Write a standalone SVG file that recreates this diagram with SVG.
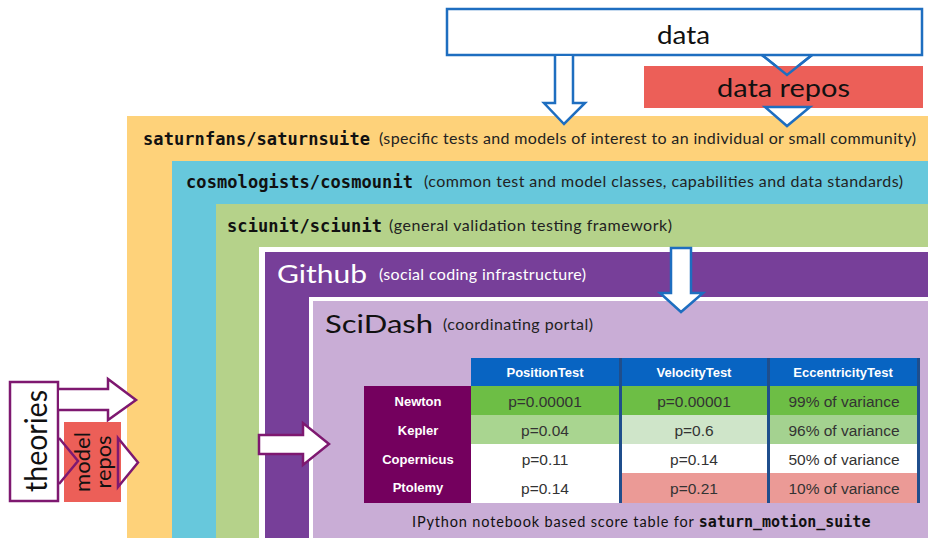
<svg xmlns="http://www.w3.org/2000/svg" width="928" height="538" viewBox="0 0 928 538">
<style>
.mono{font-family:"DejaVu Sans Mono","Liberation Mono",monospace;font-weight:bold;fill:#111}
.cal{font-family:Lato,"Open Sans",sans-serif;fill:#222}
.geo{font-family:Lato,"Noto Sans",sans-serif;fill:#111}
.tb{font-family:"Liberation Sans",Arial,sans-serif}
.hd{font-weight:bold;font-size:13px;fill:#fff;text-anchor:middle}
.lb{font-weight:bold;font-size:13px;fill:#fff;text-anchor:middle}
.cl{font-size:15.5px;fill:#333;text-anchor:middle}
.barr{fill:#fff;stroke:#1E6EC0;stroke-width:2.5;stroke-linejoin:miter}
.parr{fill:#fff;stroke:#7E1870;stroke-width:2.5;stroke-linejoin:miter}
.sep{fill:#1F4E8C}
</style>

<g id="saturnsuite">
<rect x="127" y="116" width="801" height="422" fill="#FED27A"/>
<text class="mono" x="143" y="145" font-size="17" textLength="227">saturnfans/saturnsuite</text>
<text class="cal" x="379" y="144" font-size="16" textLength="537">(specific tests and models of interest to an individual or small community)</text>
</g>

<g id="cosmounit">
<rect x="172" y="161" width="756" height="377" fill="#67C8DC"/>
<text class="mono" x="186" y="188" font-size="17" textLength="227">cosmologists/cosmounit</text>
<text class="cal" x="424" y="187" font-size="16" textLength="479">(common test and model classes, capabilities and data standards)</text>
</g>

<g id="sciunit">
<rect x="216" y="204" width="712" height="334" fill="#B5D28A"/>
<text class="mono" x="227" y="232" font-size="17" textLength="155">sciunit/sciunit</text>
<text class="cal" x="389" y="231" font-size="16" textLength="283">(general validation testing framework)</text>
</g>

<g id="github">
<rect x="259" y="247" width="669" height="291" fill="#fff"/>
<rect x="265" y="252" width="663" height="286" fill="#773F99"/>
<text class="geo" x="277" y="283" font-size="25" textLength="90" lengthAdjust="spacingAndGlyphs" style="fill:#fff">Github</text>
<text class="cal" x="379" y="280" font-size="16" textLength="207" style="fill:#fff">(social coding infrastructure)</text>
</g>

<g id="scidash">
<rect x="309" y="297" width="619" height="241" fill="#fff"/>
<rect x="313" y="301" width="615" height="237" fill="#C9ADD6"/>
<text class="geo" x="325" y="333" font-size="25" textLength="108" lengthAdjust="spacingAndGlyphs">SciDash</text>
<text class="cal" x="443" y="330" font-size="16" textLength="150">(coordinating portal)</text>
</g>

<g id="score-table" class="tb">
<rect x="471" y="358" width="448" height="28" fill="#0864C2"/>
<rect x="364" y="386" width="107" height="117" fill="#74005E"/>
<rect x="471" y="386" width="448" height="29" fill="#6DBE45"/>
<rect x="471" y="415" width="150" height="29" fill="#A9D590"/>
<rect x="621" y="415" width="148" height="29" fill="#CFE5C9"/>
<rect x="769" y="415" width="150" height="29" fill="#A4D290"/>
<rect x="471" y="444" width="448" height="59" fill="#fff"/>
<rect x="621" y="473" width="298" height="30" fill="#EB9A96"/>
<rect class="sep" x="619" y="358" width="3" height="145"/>
<rect class="sep" x="767" y="358" width="3" height="145"/>
<rect class="sep" x="917" y="358" width="3" height="145"/>
<text class="hd" x="545" y="377">PositionTest</text>
<text class="hd" x="694" y="377">VelocityTest</text>
<text class="hd" x="843" y="377">EccentricityTest</text>
<text class="lb" x="418" y="406">Newton</text>
<text class="lb" x="418" y="435">Kepler</text>
<text class="lb" x="418" y="464">Copernicus</text>
<text class="lb" x="418" y="492">Ptolemy</text>
<text class="cl" x="545" y="407">p=0.00001</text>
<text class="cl" x="694" y="407">p=0.00001</text>
<text class="cl" x="844" y="407">99% of variance</text>
<text class="cl" x="545" y="436">p=0.04</text>
<text class="cl" x="694" y="436">p=0.6</text>
<text class="cl" x="844" y="436">96% of variance</text>
<text class="cl" x="545" y="465">p=0.11</text>
<text class="cl" x="694" y="465">p=0.14</text>
<text class="cl" x="844" y="465">50% of variance</text>
<text class="cl" x="545" y="494">p=0.14</text>
<text class="cl" x="694" y="494">p=0.21</text>
<text class="cl" x="844" y="494">10% of variance</text>
<text x="412" y="527" font-size="14.5"><tspan class="geo" textLength="286">IPython notebook based score table for </tspan><tspan class="mono" font-size="15">saturn_motion_suite</tspan></text>
</g>

<g id="data">
<rect x="447" y="9" width="475" height="46" fill="#fff" stroke="#1E6EC0" stroke-width="2.5"/>
<text class="geo" x="657" y="44" font-size="25" textLength="53" lengthAdjust="spacingAndGlyphs">data</text>
</g>

<g id="theories">
<rect x="10" y="382" width="48" height="119" fill="#fff" stroke="#7E1870" stroke-width="2.5"/>
<text class="geo" transform="translate(47,441) rotate(-90)" font-size="30" text-anchor="middle" textLength="102" lengthAdjust="spacingAndGlyphs">theories</text>
</g>

<g id="connectors">
<path class="barr" d="M555,56 V103 H544 L564,124 L585,103 H573 V56"/>
<polyline points="762,55 787,75 812,55" fill="none" stroke="#1E6EC0" stroke-width="2.5"/>
<path class="barr" d="M671,248 V293 H660 L681,312 L703,293 H691 V248 Z"/>
<path class="parr" d="M59,389 H108 V379 L136,400 L108,420 V410 H59"/>
<path class="parr" d="M259,435 H303 V423 L329,444 L303,465 V454 H259 Z"/>
</g>

<g id="data-repos">
<rect x="644" y="66" width="279" height="42" fill="#EC5F58"/>
<polyline points="762,55 787,75 812,55" fill="none" stroke="#1E6EC0" stroke-width="2.5"/>
<text class="geo" x="717" y="97" font-size="25" textLength="133" lengthAdjust="spacingAndGlyphs">data repos</text>
<polygon class="barr" points="765,107 810,107 787,126"/>
</g>

<g id="model-repos">
<rect x="64" y="422" width="57" height="80" fill="#EC5F58"/>
<polyline points="59,438 78,461 59,484" fill="none" stroke="#7E1870" stroke-width="2.5"/>
<text class="geo" transform="translate(90,462) rotate(-90)" font-size="21" text-anchor="middle" textLength="60" lengthAdjust="spacingAndGlyphs">model</text>
<text class="geo" transform="translate(111,462) rotate(-90)" font-size="21" text-anchor="middle" textLength="53" lengthAdjust="spacingAndGlyphs">repos</text>
<polygon points="121,441.7 138,462.5 121,483.3" fill="#fff"/>
<polygon points="118,438 138,462.5 118,487" fill="none" stroke="#7E1870" stroke-width="2.5"/>
</g>
</svg>
